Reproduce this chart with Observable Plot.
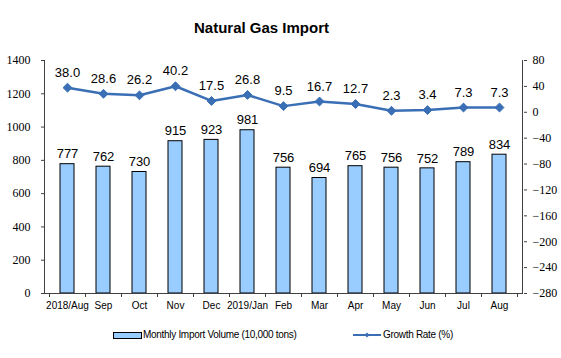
<!DOCTYPE html>
<html><head><meta charset="utf-8">
<script src="https://cdn.jsdelivr.net/npm/d3@7"></script>
<script src="https://cdn.jsdelivr.net/npm/@observablehq/plot@0.6"></script>
<style>
html,body{margin:0;padding:0;background:#fff;}
body{width:561px;height:358px;overflow:hidden;position:relative;font-family:"Liberation Sans",Arial,sans-serif;}
#title{position:absolute;left:0;top:0;width:523px;height:40px;text-align:center;font-weight:bold;font-size:15px;line-height:15px;padding-top:20px;box-sizing:border-box;color:#000;}
#chart{position:absolute;left:0;top:40px;}
#legend{position:absolute;left:0;top:322px;width:561px;height:36px;font-size:10px;letter-spacing:-0.3px;color:#000;}
.sw{position:absolute;}
.lt{position:absolute;line-height:12px;white-space:nowrap;}
</style>
</head><body>
<div id="title">Natural Gas Import</div>
<div id="chart"></div>
<div id="legend">
  <div class="sw" style="left:113px;top:10px;width:27px;height:5px;background:#99ccff;border:1px solid #000;"></div>
  <div class="lt" style="left:143px;top:7px;">Monthly Import Volume (10,000 tons)</div>
  <svg class="sw" style="left:353px;top:9px;" width="28" height="8"><line x1="0" y1="4" x2="28" y2="4" stroke="#3a6fb5" stroke-width="2"/><path d="M14,1.5L16.5,4L14,6.5L11.5,4Z" fill="#3a6fb5"/></svg>
  <div class="lt" style="left:383px;top:7px;">Growth Rate (%)</div>
</div>
<script>
const months = ["2018/Aug","Sep","Oct","Nov","Dec","2019/Jan","Feb","Mar","Apr","May","Jun","Jul","Aug"];
const volume = [777,762,730,915,923,981,756,694,765,756,752,789,834];
const growth = [38.0,28.6,26.2,40.2,17.5,26.8,9.5,16.7,12.7,2.3,3.4,7.3,7.3];
const leftTicks = [0,200,400,600,800,1000,1200,1400];
const rightTicks = [-280,-240,-200,-160,-120,-80,-40,0,40,80];

const leftMin = 0, leftMax = 1400, rightMin = -280, rightMax = 80;
const toLeft = v => leftMin + (v - rightMin) / (rightMax - rightMin) * (leftMax - leftMin);
const fromLeft = v => Math.round(rightMin + (v - leftMin) / (leftMax - leftMin) * (rightMax - rightMin));
const fmtMinus = v => String(v).replace("-", "\u2212");

const data = months.map((m, i) => ({month: m, volume: volume[i], growth: growth[i], g: toLeft(growth[i])}));

const serif = "'Liberation Serif', serif";
const lineColor = "#3a6fb5";
const chart = Plot.plot({
  width: 561, height: 282,
  marginTop: 20, marginBottom: 29, marginLeft: 44, marginRight: 38,
  style: {fontFamily: "'Liberation Sans', Arial, sans-serif", background: "white", color: "#000"},
  x: {domain: months, paddingInner: 0.6, paddingOuter: 0.3, axis: null},
  y: {domain: [leftMin, leftMax], axis: null},
  marks: [
    Plot.axisX({tickSize: 0, tickPadding: 8, fontSize: 10, label: null}),
    Plot.axisY({anchor: "left", ticks: leftTicks, tickFormat: d => String(d), tickSize: 3, tickPadding: 11, fontSize: 12, fontFamily: serif, label: null, stroke: "#404040"}),
    Plot.axisY({anchor: "right", ticks: rightTicks.map(toLeft), tickFormat: d => fmtMinus(fromLeft(d)), tickSize: 3, tickPadding: 6, fontSize: 12, fontFamily: serif, label: null, stroke: "#404040"}),
    Plot.barY(data, {x: "month", y: "volume", fill: "#99ccff", stroke: "#000", strokeWidth: 1}),
    Plot.text(data, {x: "month", y: "volume", text: d => String(d.volume), dy: -10, fontSize: 13}),
    Plot.line(data, {x: "month", y: "g", stroke: lineColor, strokeWidth: 2.5}),
    Plot.dot(data, {x: "month", y: "g", symbol: "diamond2", r: 4, fill: lineColor, stroke: lineColor, strokeWidth: 1}),
    Plot.text(data, {x: "month", y: "g", text: d => d.growth.toFixed(1), dy: -15, fontSize: 13}),
    Plot.ruleY([leftMin], {stroke: "#404040"})
  ]
});
document.getElementById("chart").appendChild(chart);

// axis lines and category-boundary tick marks, placed through the chart's own scales
const xs = chart.scale("x"), ys = chart.scale("y");
const svg = d3.select(chart);
const [x0, x1] = xs.range;
const yBottom = ys.apply(leftMin), yTop = ys.apply(leftMax);
const half = (xs.step - xs.bandwidth) / 2;
const edges = months.map(m => xs.apply(m) - half).concat([xs.apply(months[months.length - 1]) + xs.bandwidth + half]);
const g = svg.append("g").attr("stroke", "#404040").attr("stroke-width", 1);
g.append("line").attr("x1", x0 + 0.5).attr("x2", x0 + 0.5).attr("y1", yTop).attr("y2", yBottom);
g.append("line").attr("x1", x1 - 0.5).attr("x2", x1 - 0.5).attr("y1", yTop).attr("y2", yBottom);
edges.forEach(e => g.append("line").attr("x1", Math.round(e) + 0.5).attr("x2", Math.round(e) + 0.5).attr("y1", yBottom).attr("y2", yBottom + 4));
</script>
</body></html>
